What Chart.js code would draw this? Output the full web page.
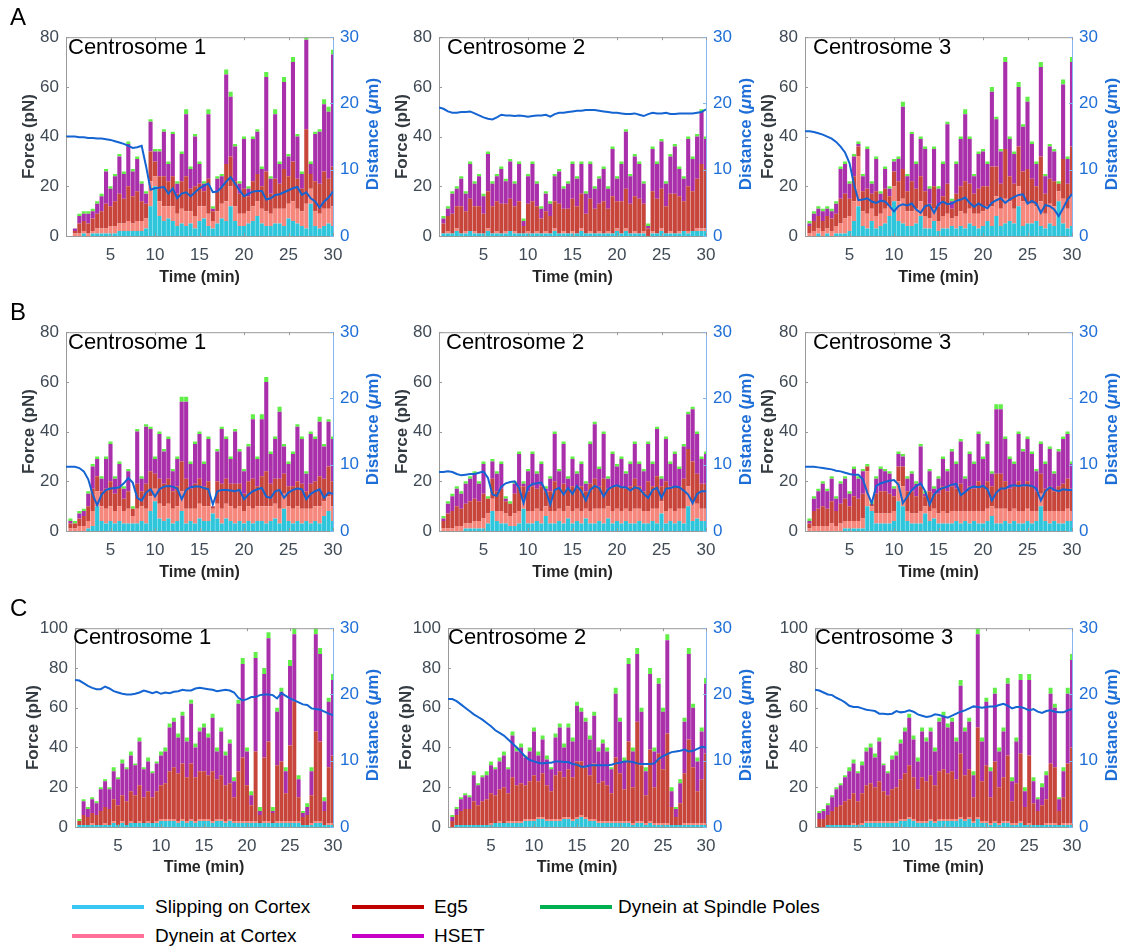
<!DOCTYPE html>
<html lang="en"><head><meta charset="utf-8"><title>Forces and centrosome distance</title>
<script src="https://cdn.jsdelivr.net/npm/chart.js@4.4.1/dist/chart.umd.min.js"></script>
<style>
html,body{margin:0;padding:0;background:#fff}
#wrap{position:relative;width:1133px;height:950px;overflow:hidden;font-family:"Liberation Sans",Arial,Helvetica,sans-serif}
canvas{position:absolute}
.t{position:absolute;white-space:nowrap;line-height:1;color:#000}
.letter{font-size:24px}
.cname{font-size:22px}
.rt{position:absolute;width:200px;height:20px;line-height:20px;text-align:center;font-size:17px;font-weight:bold;color:#1e6ed7;transform:rotate(-90deg);white-space:nowrap}
.lg{position:absolute;height:20px;line-height:20px;font-size:19px;color:#000;white-space:nowrap}
.ll{position:absolute;height:4px;width:72px}
</style></head><body><div id="wrap"></div>
<script>
// ---------- time axis (min) ----------
const T = [0,0.5,1,1.5,2,2.5,3,3.5,4,4.5,5,5.5,6,6.5,7,7.5,8,8.5,9,9.5,10,10.5,11,11.5,12,12.5,13,13.5,14,14.5,15,15.5,16,16.5,17,17.5,18,18.5,19,19.5,20,20.5,21,21.5,22,22.5,23,23.5,24,24.5,25,25.5,26,26.5,27,27.5,28,28.5,29,29.5,30];

// ---------- A, Centrosome 1 ----------
const a1Slip  = [0,0,0,0,1,0,1,1,1,1, 1,1,2,2,2,2,2,2,3,12, 20,8,6,7,6,4,5,4,5,3, 6,7,4,3,5,7,6,12,6,4, 4,5,6,8,5,4,4,5,5,4, 7,6,5,4,3,13,4,3,4,5, 4];
const a1DynC  = [0,0,1,1,1,1,1,2,2,2, 3,3,3,3,4,3,4,4,4,10, 4,6,6,5,6,5,6,6,5,5, 6,5,5,3,5,6,8,8,6,5, 5,5,6,6,6,6,5,6,6,7, 6,8,6,6,10,6,6,6,7,6, 8];
const a1Eg5   = [0,0,1,4,4,4,5,6,7,10, 8,10,12,10,14,11,12,8,6,12, 6,10,12,10,12,8,11,14,9,12, 9,6,14,4,8,7,15,12,10,8, 10,6,10,11,9,16,8,12,10,16, 11,16,12,9,30,6,12,12,15,12, 16];
const a1Hset  = [0,0,1,3,3,4,3,4,6,13, 7,10,15,10,17,10,13,7,4,12, 4,10,18,7,17,4,11,25,8,20, 8,3,26,1,5,4,36,24,14,4, 20,3,17,17,7,38,6,26,8,35, 8,40,17,6,36,4,19,21,27,27, 45];
const a1Poles = [0,0,0,1,1,1,1,1,1,1, 1,1,1,1,1,1,1,1,1,1, 1,1,1,1,1,1,1,2,1,1, 1,1,2,1,1,1,2,2,1,1, 1,1,1,1,1,2,1,2,1,2, 1,2,1,1,2,1,1,1,2,2, 2];
const a1Dist  = [15.0,15.0,15.0,14.9,14.9,14.8,14.8,14.7,14.7,14.6, 14.5,14.3,14.1,13.9,13.6,13.3,13.4,13.6,10.5,7.0, 7.2,7.3,7.4,6.4,7.2,5.7,6.4,6.6,6.0,6.6, 7.2,7.6,7.9,6.6,6.7,7.4,8.2,8.9,7.9,6.9, 6.0,6.4,6.7,6.8,6.8,5.5,5.7,6.2,6.3,6.6, 6.9,7.2,7.4,6.2,6.6,5.7,5.2,4.3,5.2,5.8, 6.7];

// ---------- A, Centrosome 2 ----------
const a2Slip  = [0,1,1,1,2,1,1,2,1,1, 1,2,1,1,1,1,2,1,1,1, 1,1,1,1,1,1,2,1,1,1, 1,1,2,1,1,1,1,1,1,1, 2,1,2,1,1,1,1,0,1,1, 2,1,1,1,1,2,1,2,2,2, 2];
const a2DynC  = [0,0,1,0,1,0,1,0,1,0, 0,1,0,1,0,1,0,1,0,0, 1,0,1,0,1,0,1,0,1,0, 1,0,1,0,1,0,1,0,1,0, 1,0,1,0,1,0,1,0,1,0, 1,0,1,0,1,0,1,0,1,1, 1];
const a2Eg5   = [0,4,6,8,9,11,8,13,10,11, 8,15,11,12,12,11,13,10,13,3, 11,13,10,6,8,7,11,12,9,10, 13,11,14,8,13,10,11,13,9,15, 11,13,16,12,14,14,11,3,16,14, 16,11,15,16,14,12,18,16,20,26, 24];
const a2Hset  = [0,2,3,8,7,11,7,14,9,12, 7,15,9,10,14,9,15,9,15,2, 11,15,9,4,7,5,10,13,8,10, 14,11,12,8,14,8,10,13,8,19, 9,15,23,11,16,14,8,1,17,14, 19,9,15,19,11,9,19,13,17,21, 12];
const a2Poles = [0,1,1,1,1,1,1,1,1,1, 1,1,1,1,1,1,1,1,1,1, 1,1,1,1,1,1,1,1,1,1, 1,1,1,1,1,1,1,1,1,1, 1,1,1,1,1,1,1,1,1,1, 1,1,1,1,1,1,1,1,1,1, 1];
const a2Dist  = [19.4,19.2,18.8,18.6,18.6,18.7,18.7,18.8,18.5,18.2, 17.9,17.7,17.6,17.9,18.3,18.2,18.2,18.1,18.2,18.1, 18.0,18.1,18.2,18.2,18.3,18.0,18.4,18.6,18.6,18.7, 18.8,18.9,18.9,19.0,19.0,19.0,18.9,18.8,18.7,18.6, 18.6,18.5,18.4,18.4,18.5,18.3,18.1,18.4,18.6,18.5, 18.5,18.6,18.4,18.4,18.5,18.5,18.5,18.5,18.6,18.7, 19.1];

// ---------- A, Centrosome 3 ----------
const a3Slip  = [0,0,0,1,0,1,0,1,1,1, 2,6,12,4,3,6,3,4,5,8, 14,6,5,4,4,5,8,3,3,6, 2,3,3,4,3,4,3,5,4,3, 4,6,4,8,4,5,6,5,12,4, 5,5,6,4,3,5,4,14,5,3, 4];
const a3DynC  = [0,1,2,2,2,2,2,3,4,6, 6,8,20,6,6,5,5,5,6,4, 6,8,10,6,6,6,6,5,4,5, 4,5,6,3,5,6,6,6,5,6, 6,6,8,8,7,10,8,6,8,10, 8,8,6,10,6,8,8,4,10,8, 12];
const a3Eg5   = [0,3,4,5,4,5,5,5,10,10, 7,10,4,8,10,6,10,5,8,4, 6,8,12,8,12,8,10,10,6,9, 6,8,12,4,9,10,13,10,8,10, 10,8,16,12,10,20,10,10,16,12, 14,10,8,18,8,10,10,3,16,10, 20];
const a3Hset  = [0,1,3,3,4,3,3,4,12,12, 6,8,1,6,16,4,13,3,8,3, 4,9,25,6,19,10,15,17,6,15, 7,13,24,3,12,19,27,18,7,14, 14,9,30,19,13,35,15,12,24,18, 27,14,9,36,7,13,12,0,30,10, 34];
const a3Poles = [0,1,1,1,1,1,1,1,1,1, 1,1,1,1,1,1,1,1,1,1, 1,1,2,1,1,1,1,1,1,1, 1,1,1,1,1,1,2,1,1,1, 1,1,2,1,1,2,1,1,2,1, 2,1,1,2,1,1,1,1,2,1, 2];
const a3Dist  = [15.8,15.8,15.7,15.5,15.3,15.0,14.7,14.2,13.5,12.6, 11.0,7.8,5.4,5.5,5.7,5.2,5.0,5.3,5.2,4.5, 3.7,4.5,4.8,4.6,4.9,4.0,3.5,4.5,4.7,3.5, 4.8,5.2,4.8,4.9,5.3,5.5,5.8,5.0,4.4,4.9, 4.5,4.2,5.0,5.4,5.7,5.0,5.5,5.9,6.2,6.3, 4.9,5.3,4.9,3.5,4.7,4.5,4.0,3.0,4.2,5.5, 6.3];

// ---------- B, Centrosome 1 ----------
const b1Slip  = [0,0,0,0,0,1,2,10,4,3, 4,3,4,3,3,3,3,4,3,8, 12,5,4,5,3,4,8,3,4,3, 5,4,4,7,5,3,5,4,3,4, 3,4,3,4,4,3,4,5,3,9, 4,3,4,3,4,3,4,3,6,8, 4];
const b1DynC  = [0,1,1,2,2,3,6,6,6,6, 6,5,6,5,6,3,6,6,6,6, 5,6,6,6,6,6,8,6,5,6, 6,6,6,2,6,6,6,6,6,6, 5,6,6,6,6,7,6,6,6,6, 6,6,6,6,5,6,6,7,6,6, 6];
const b1Eg5   = [0,2,2,3,4,6,9,6,6,8, 10,7,8,5,7,3,10,6,10,10, 6,10,9,10,7,8,12,12,8,10, 10,8,10,1,9,10,10,9,10,9, 7,10,12,8,12,14,9,10,12,8, 8,9,10,10,7,10,10,12,9,12, 10];
const b1Hset  = [0,1,0,2,2,5,9,7,5,12, 15,6,9,4,8,0,21,5,23,17, 6,18,13,16,8,11,24,31,10,16, 18,9,17,0,12,22,16,10,21,13, 9,14,24,11,23,36,12,16,27,11, 9,13,22,18,7,20,17,22,13,18, 17];
const b1Poles = [0,1,1,1,1,1,1,1,1,1, 1,1,1,1,1,1,1,1,1,1, 1,1,1,1,1,1,2,2,1,1, 1,1,1,0,1,1,1,1,1,1, 1,1,2,1,2,2,1,1,2,1, 1,1,1,1,1,1,1,2,1,1, 1];
const b1Dist  = [9.7,9.7,9.7,9.5,9.0,7.8,5.5,3.9,5.5,6.2, 6.4,6.5,6.6,7.2,8.0,7.3,5.0,4.6,5.8,6.3, 5.2,6.3,6.7,6.8,6.7,6.4,4.8,6.2,6.6,6.7, 6.7,6.5,6.3,4.0,6.0,6.2,6.2,6.1,6.0,6.2, 4.8,5.5,6.0,6.3,6.5,5.2,5.0,6.0,6.2,5.0, 5.8,6.2,6.4,6.3,4.8,5.6,6.0,6.3,5.0,5.8, 5.6];

// ---------- B, Centrosome 2 ----------
const b2Slip  = [0,0,0,0,0,0,1,1,1,1, 1,3,8,4,3,3,2,2,3,9, 3,3,4,3,6,3,3,4,3,5, 3,4,3,5,3,3,4,3,5,3, 4,3,4,3,3,4,3,3,4,3, 7,3,4,3,4,3,10,4,5,4, 4];
const b2DynC  = [0,1,1,1,2,2,2,2,3,3, 4,4,5,4,5,4,4,5,5,4, 5,5,5,5,4,5,5,5,5,5, 5,5,5,4,5,6,5,6,5,5, 5,5,5,5,6,5,5,5,5,6, 5,5,5,5,5,6,8,8,6,5, 5];
const b2Eg5   = [0,3,6,7,8,7,8,9,9,8, 10,6,8,8,9,5,5,8,10,5, 8,10,8,10,6,8,12,8,11,7, 10,8,10,7,11,12,9,12,7,10, 9,10,8,10,12,9,8,12,9,13, 6,12,9,10,9,12,15,16,12,10, 10];
const b2Hset  = [0,1,4,6,7,6,8,9,10,7, 12,0,7,7,10,1,0,4,13,1, 8,13,6,9,1,5,19,7,16,4, 11,6,9,3,16,22,7,18,4,13, 8,11,6,9,14,9,8,15,9,19, 3,17,9,13,7,13,14,21,16,10, 12];
const b2Poles = [0,1,1,1,1,1,1,1,1,1, 1,1,1,1,1,1,1,1,1,1, 1,1,1,1,1,1,1,1,1,1, 1,1,1,1,1,1,1,1,1,1, 1,1,1,1,1,1,1,1,1,1, 1,1,1,1,1,1,1,1,1,1, 1];
const b2Dist  = [8.9,8.9,9.0,8.9,8.6,8.4,8.5,8.6,8.6,8.8, 9.0,8.0,5.5,5.3,6.7,7.2,7.4,7.5,6.5,4.2, 6.6,7.1,7.2,7.3,6.0,4.0,6.2,6.5,5.5,6.5, 5.6,6.8,6.0,4.6,6.2,6.8,6.5,5.2,6.3,6.7, 6.9,6.6,6.6,6.1,6.6,6.4,5.6,5.0,6.2,6.5, 5.0,6.4,6.5,6.7,6.6,6.1,5.5,4.2,5.6,6.0, 6.0];

// ---------- B, Centrosome 3 ----------
const b3Slip  = [0,0,0,0,0,0,0,0,0,1, 1,1,1,1,10,8,3,3,3,3, 4,12,10,4,3,3,3,7,4,5, 3,3,3,3,4,3,4,3,4,3, 3,4,6,3,3,4,3,4,3,3, 4,3,4,10,4,3,4,3,3,4, 4];
const b3DynC  = [0,1,2,2,2,2,3,2,3,3, 3,3,3,4,14,2,4,4,4,4, 4,8,8,4,4,4,5,3,4,4, 4,5,4,5,4,5,4,5,4,5, 5,5,4,6,6,5,5,5,5,5, 5,5,4,5,4,5,4,5,5,5, 4];
const b3Eg5   = [0,2,6,7,8,7,9,6,8,9, 6,10,9,10,2,1,8,9,9,8, 6,6,8,8,9,7,10,4,8,6, 8,10,9,10,9,11,8,10,9,12, 10,11,8,14,14,11,9,9,12,10, 11,10,8,8,9,10,8,10,11,12, 9];
const b3Hset  = [0,1,5,7,9,7,9,5,8,8, 5,11,8,9,0,0,6,9,8,8, 3,5,4,5,7,5,16,1,8,2, 6,11,8,14,10,17,5,13,10,19, 11,15,5,26,26,17,12,9,19,14, 17,13,8,12,10,15,7,14,18,18, 10];
const b3Poles = [0,1,1,1,1,1,1,1,1,1, 1,1,1,1,1,1,1,1,1,1, 1,1,1,1,1,1,1,1,1,1, 1,1,1,1,1,1,1,1,1,1, 1,1,1,2,2,1,1,1,1,1, 1,1,1,1,1,1,1,1,1,1, 1];
const b3Dist  = [9.7,9.7,9.7,9.6,9.5,9.4,9.3,9.1,9.0,8.8, 8.6,8.5,8.5,7.8,5.8,4.2,6.8,7.2,7.4,7.6, 7.7,7.0,4.2,5.2,6.2,6.8,7.2,6.0,4.0,5.5, 6.2,6.5,6.7,7.0,7.1,5.4,5.9,6.5,6.7,6.6, 6.8,6.3,4.6,5.8,6.4,6.4,6.8,6.9,6.8,6.9, 6.9,6.8,6.4,4.6,6.0,6.6,6.2,6.0,6.3,6.2, 6.2];

// ---------- C, Centrosome 1 ----------
const c1Slip  = [0,1,1,1,1,1,1,1,1,2, 1,2,1,2,2,2,2,2,2,2, 3,3,3,3,2,3,2,3,2,3, 3,3,2,3,3,2,3,2,2,2, 2,2,2,2,2,2,2,2,2,2, 2,2,2,1,1,1,2,2,1,1, 1];
const c1DynC  = [0,0,0,0,1,0,0,1,0,1, 0,1,0,1,0,1,0,1,0,1, 1,1,1,1,1,1,1,1,1,1, 1,1,1,1,1,1,1,1,1,1, 1,1,1,0,1,1,0,1,1,1, 1,1,1,0,0,1,1,1,0,1, 1];
const c1Eg5   = [0,2,5,4,5,5,7,8,8,11, 10,13,12,15,14,18,13,15,13,15, 17,18,24,26,24,28,22,28,22,24, 24,22,25,20,22,18,18,12,25,32, 18,8,35,4,32,40,5,28,30,14, 38,60,12,4,5,14,45,40,7,28, 34];
const c1Hset  = [0,0,7,4,7,6,11,13,10,14, 13,16,16,18,15,22,14,15,12,14, 15,16,22,23,18,24,18,30,15,20, 22,19,27,14,22,15,20,8,34,47, 17,5,47,2,42,52,1,27,35,11, 40,34,9,2,4,12,49,44,5,33, 38];
const c1Poles = [0,1,1,1,1,1,1,1,1,2, 1,2,1,2,1,2,1,2,1,1, 2,2,2,2,2,2,2,2,2,2, 2,2,2,2,2,2,2,2,2,3, 2,2,3,2,3,3,2,2,2,2, 3,3,2,1,2,2,3,3,2,2, 3];
const c1Dist  = [22.2,22.1,21.7,21.3,21.0,20.8,20.8,21.2,20.9,20.5, 20.3,20.1,20.0,20.0,20.1,20.3,20.6,20.4,20.2,20.4, 20.1,20.3,20.2,20.4,20.5,20.7,20.6,20.6,20.9,21.0, 20.9,20.8,20.7,20.5,20.6,20.7,20.6,20.3,19.5,19.1, 19.3,19.6,19.6,19.9,20.0,20.0,19.9,19.4,20.2,19.8, 19.4,19.1,18.8,18.5,18.4,17.9,17.8,17.7,17.4,17.1, 16.9];

// ---------- C, Centrosome 2 ----------
const c2Slip  = [0,0,1,1,1,1,1,1,1,1, 1,2,2,2,2,2,2,2,3,3, 3,4,4,3,3,3,3,4,4,3, 4,5,4,3,3,2,2,2,2,2, 2,2,2,1,2,2,1,2,1,1, 1,1,1,1,1,1,1,1,1,1, 1];
const c2DynC  = [0,0,0,0,0,0,0,0,0,0, 1,0,1,0,1,1,1,1,1,1, 1,1,1,1,1,1,1,1,1,1, 1,1,1,1,1,1,1,1,1,1, 1,1,1,1,1,1,1,1,1,1, 1,1,0,0,0,1,1,1,1,1, 1];
const c2Eg5   = [0,3,5,7,8,8,12,10,12,13, 15,14,16,18,14,22,18,19,17,19, 22,18,22,17,14,22,24,20,24,21, 28,27,25,22,28,19,20,18,14,32, 24,16,40,18,50,28,14,36,18,35, 27,45,9,4,11,25,42,28,16,22, 35];
const c2Hset  = [0,2,3,6,7,6,13,10,12,12, 14,13,14,16,12,21,17,18,14,15, 22,13,17,13,11,19,22,15,21,18, 28,25,23,18,24,16,19,17,12,32, 26,14,39,18,34,27,12,38,18,35, 29,47,8,4,10,26,43,30,15,24, 35];
const c2Poles = [0,1,1,1,1,1,2,1,1,2, 2,1,2,2,1,2,2,2,1,2, 2,2,2,2,1,2,2,2,2,2, 2,2,2,2,2,2,2,2,1,3, 2,2,3,2,3,2,2,3,2,3, 2,3,2,1,2,2,3,2,2,2, 3];
const c2Dist  = [19.3,19.3,19.0,18.5,18.0,17.5,17.0,16.6,16.2,15.7, 15.2,14.6,14.2,13.8,13.2,12.6,12.0,11.3,10.6,10.1, 9.9,9.7,9.6,9.7,9.7,9.9,9.9,9.8,9.8,9.5, 9.4,9.1,9.1,9.3,9.3,9.3,9.3,9.3,9.4,9.6, 9.7,9.9,9.9,9.8,9.6,9.5,9.5,9.5,9.6,10.3, 10.7,11.0,11.3,11.4,11.5,11.7,11.4,11.5,11.8,12.1, 12.0];

// ---------- C, Centrosome 3 ----------
const c3Slip  = [0,0,0,1,1,1,1,1,1,1, 1,1,2,2,2,2,2,2,2,2, 3,3,4,3,2,2,2,3,2,3, 3,3,3,3,4,3,4,2,4,2, 2,1,2,1,2,2,1,1,2,1, 1,1,1,1,1,1,1,1,1,1, 1];
const c3DynC  = [0,0,0,0,0,0,0,0,0,1, 0,1,1,1,1,1,1,1,1,1, 1,1,1,1,1,1,1,1,1,1, 1,1,1,1,1,1,1,1,1,1, 1,1,1,1,1,1,1,1,1,0, 1,0,0,0,1,1,1,0,1,1, 1];
const c3Eg5   = [0,4,4,5,7,9,10,12,13,15, 12,15,18,19,17,20,15,13,16,17, 20,23,26,21,16,22,20,22,18,24, 25,23,24,20,32,22,24,12,45,20, 28,13,30,18,22,33,11,20,34,9, 34,11,7,10,12,30,28,7,13,30, 38];
const c3Hset  = [0,3,4,5,7,9,10,12,14,15, 14,14,17,18,15,20,13,11,15,16, 18,21,24,19,14,23,20,22,17,25, 27,23,25,19,34,22,24,11,47,20, 32,13,34,18,23,36,10,21,37,8, 38,11,6,9,12,35,30,6,13,35, 44];
const c3Poles = [0,1,1,1,1,1,1,1,2,2, 1,2,2,2,2,2,1,1,2,2, 2,2,2,2,2,2,2,2,2,2, 2,2,2,2,3,2,2,2,3,2, 2,2,3,2,2,3,2,2,3,2, 3,2,1,2,2,3,2,1,2,3, 3];
const c3Dist  = [20.7,20.6,20.3,20.0,19.9,19.5,19.2,18.8,18.3,18.1, 18.1,17.9,17.7,17.6,17.5,17.1,17.1,17.0,17.1,17.5, 17.3,17.4,17.6,17.4,17.0,16.8,16.6,16.7,17.0,16.9, 16.7,16.5,16.8,17.1,17.4,17.6,17.9,18.2,18.1,18.0, 18.1,18.2,18.2,18.4,18.6,18.3,17.9,18.1,18.1,17.9, 17.6,17.8,17.4,17.2,17.5,17.6,17.4,17.3,17.3,17.6, 17.8];

// ---------- labels ----------
const SERIES_NAMES = ['Slipping on Cortex','Dynein at Cortex','Eg5','HSET','Dynein at Spindle Poles'];
const PANEL_NAMES = ['Centrosome 1','Centrosome 2','Centrosome 3'];
const ROW_LETTERS = ['A','B','C'];

// ---------- styles ----------
const BAR_COLORS = ['#2fc6dc','#f5877d','#c8453b','#a92fab','#62ee48'];
const LEGEND_COLORS = ['#38c6f2','#ff6f97','#c00000','#c800c8','#00b050'];
const DIST_COLOR = '#1464d2';
const BLUE_TEXT = '#1e6ed7';
const AXIS_GRAY = '#9a9a9a';
const RIGHT_AXIS = '#86b6ee';
const TICK_GRAY = '#3f4a55';
const FONT = '"Liberation Sans", Arial, Helvetica, sans-serif';

const DATA = [
  [[a1Slip,a1DynC,a1Eg5,a1Hset,a1Poles],a1Dist],
  [[a2Slip,a2DynC,a2Eg5,a2Hset,a2Poles],a2Dist],
  [[a3Slip,a3DynC,a3Eg5,a3Hset,a3Poles],a3Dist],
  [[b1Slip,b1DynC,b1Eg5,b1Hset,b1Poles],b1Dist],
  [[b2Slip,b2DynC,b2Eg5,b2Hset,b2Poles],b2Dist],
  [[b3Slip,b3DynC,b3Eg5,b3Hset,b3Poles],b3Dist],
  [[c1Slip,c1DynC,c1Eg5,c1Hset,c1Poles],c1Dist],
  [[c2Slip,c2DynC,c2Eg5,c2Hset,c2Poles],c2Dist],
  [[c3Slip,c3DynC,c3Eg5,c3Hset,c3Poles],c3Dist]
];

// layout (pixels)
const ROWS = [
  {top:32, h:204, ymax:80, lefts:[66,439,805], widths:[267,267,267], nameX:[68,447,813], nameBase:55, lw:60, ytp:12.8, xtp:0.6, letterBase:25},
  {top:327,h:204, ymax:80, lefts:[66,439,805], widths:[267,267,267], nameX:[68,446,813], nameBase:350, lw:60, ytp:12.8, xtp:0.6, letterBase:320},
  {top:623,h:204, ymax:100,lefts:[75,448,815], widths:[258,258,257], nameX:[73,448,815], nameBase:645, lw:64, ytp:11.8, xtp:1.6, letterBase:616}
];

const framePlugin = {
  id:'frame',
  afterDraw(c){
    const {ctx, chartArea:a, scales} = c;
    const x = scales.x, y = scales.y, y1 = scales.y1;
    ctx.save();
    ctx.lineWidth = 1;
    ctx.strokeStyle = AXIS_GRAY;
    ctx.beginPath();
    ctx.moveTo(a.left, a.top + 0.5); ctx.lineTo(a.right, a.top + 0.5);
    x.ticks.forEach(t => {
      const px = Math.round(x.getPixelForValue(t.value)) + 0.5;
      ctx.moveTo(px, a.bottom); ctx.lineTo(px, a.bottom - 3);
      ctx.moveTo(px, a.top); ctx.lineTo(px, a.top + 3);
    });
    y.ticks.forEach(t => {
      const py = Math.round(y.getPixelForValue(t.value)) + 0.5;
      ctx.moveTo(a.left, py); ctx.lineTo(a.left + 3, py);
    });
    ctx.stroke();
    ctx.strokeStyle = RIGHT_AXIS;
    ctx.beginPath();
    y1.ticks.forEach(t => {
      const py = Math.round(y1.getPixelForValue(t.value)) + 0.5;
      ctx.moveTo(a.right, py); ctx.lineTo(a.right - 3, py);
    });
    ctx.stroke();
    ctx.restore();
  }
};

const wrap = document.getElementById('wrap');
function addDiv(cls, text, css){
  const d = document.createElement('div');
  d.className = cls; d.textContent = text;
  Object.assign(d.style, css);
  wrap.appendChild(d);
  return d;
}

ROWS.forEach((R, r) => {
  for (let col = 0; col < 3; col++) {
    const [series, dist] = DATA[r*3 + col];
    const L = R.lefts[col], W = R.widths[col], H = R.h, LW = R.lw, RW = 52, TP = 12, XH = 52;
    const cw = LW + W + RW, ch = TP + H + XH;
    const cv = document.createElement('canvas');
    cv.width = cw; cv.height = ch;
    cv.style.left = (L - LW) + 'px'; cv.style.top = (R.top - TP) + 'px';
    cv.style.width = cw + 'px'; cv.style.height = ch + 'px';
    wrap.appendChild(cv);

    const datasets = series.map((arr, k) => ({
      type:'bar', label:SERIES_NAMES[k], data:arr, backgroundColor:BAR_COLORS[k],
      borderWidth:0, barPercentage:0.92, categoryPercentage:1, order:1, yAxisID:'y'
    }));
    datasets.push({type:'line', label:'Distance', data:dist, borderColor:DIST_COLOR, borderWidth:2,
      pointRadius:0, tension:0, fill:false, yAxisID:'y1', order:0});

    new Chart(cv, {
      data:{labels:T, datasets},
      options:{
        responsive:false, animation:false, devicePixelRatio:1, events:[],
        layout:{padding:{top:TP, left:0, right:0, bottom:0}},
        plugins:{legend:{display:false}, tooltip:{enabled:false}},
        scales:{
          x:{type:'linear', min:0, max:30, offset:false, stacked:true,
             afterFit:s => { s.height = XH; },
             grid:{display:false, drawTicks:false},
             border:{display:true, color:AXIS_GRAY, width:1},
             ticks:{stepSize:5, padding:9, color:TICK_GRAY, font:{family:FONT, size:17}, maxRotation:0, autoSkip:false,
                    callback:v => v === 0 ? '' : String(v)},
             title:{display:true, text:'Time (min)', color:'#262626', font:{family:FONT, size:16, weight:'bold'}, padding:{top:0, bottom:R.xtp}}},
          y:{type:'linear', position:'left', stacked:true, min:0, max:R.ymax,
             afterFit:s => { s.width = LW; },
             grid:{display:false, drawTicks:false},
             border:{display:true, color:AXIS_GRAY, width:1},
             ticks:{stepSize:20, padding:7, color:TICK_GRAY, font:{family:FONT, size:17}},
             title:{display:true, text:'Force (pN)', color:'#333a40', font:{family:FONT, size:17, weight:'bold'}, padding:{top:R.ytp, bottom:0}}},
          y1:{type:'linear', position:'right', min:0, max:30,
             afterFit:s => { s.width = RW; },
             grid:{display:false, drawTicks:false},
             border:{display:true, color:RIGHT_AXIS, width:1},
             ticks:{stepSize:10, padding:7, color:BLUE_TEXT, font:{family:FONT, size:17}}}
        }
      },
      plugins:[framePlugin]
    });

    // panel name inside the plot
    addDiv('t cname', PANEL_NAMES[col], {left:R.nameX[col] + 'px', top:(R.nameBase - 0.8465*22) + 'px'});
    // right-axis title (reads bottom to top)
    const rt = document.createElement('div');
    rt.className = 'rt';
    rt.innerHTML = 'Distance (<i>\u03bc</i>m)';
    rt.style.left = (L + W + 40 - 100) + 'px';
    rt.style.top = (R.top + H/2 - 10) + 'px';
    wrap.appendChild(rt);
  }
  addDiv('t letter', ROW_LETTERS[r], {left:'10px', top:(R.letterBase - 0.8465*24) + 'px'});
});

// legend
const LEGEND_ITEMS = [
  {k:0, lx:72,  tx:155, y:907}, {k:2, lx:352, tx:434, y:907}, {k:4, lx:540, tx:618, y:907},
  {k:1, lx:72,  tx:155, y:936}, {k:3, lx:352, tx:434, y:936}
];
LEGEND_ITEMS.forEach(it => {
  const ln = document.createElement('div');
  ln.className = 'll';
  ln.style.left = it.lx + 'px'; ln.style.top = (it.y - 2) + 'px';
  ln.style.background = LEGEND_COLORS[it.k];
  wrap.appendChild(ln);
  addDiv('lg', SERIES_NAMES[it.k], {left:it.tx + 'px', top:(it.y - 10) + 'px'});
});
</script></body></html>
